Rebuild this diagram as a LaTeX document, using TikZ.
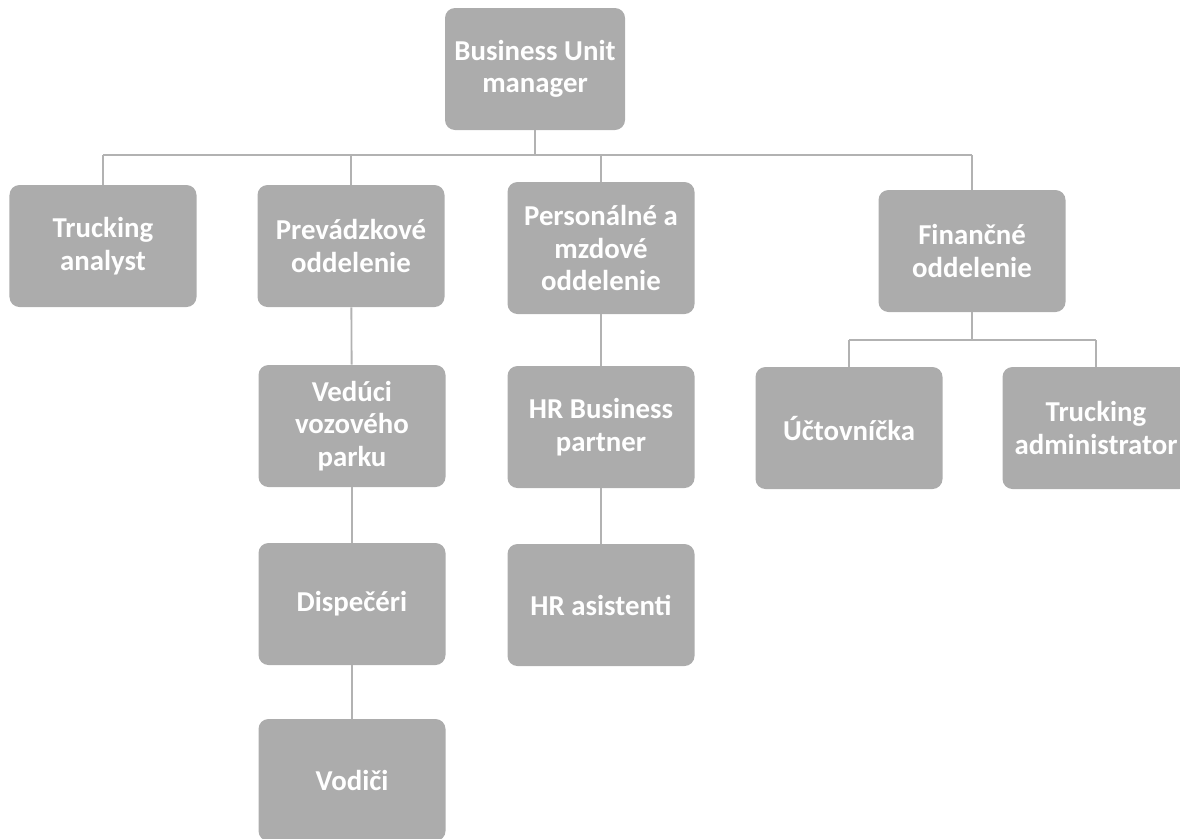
\documentclass[tikz,border=0pt]{standalone}
\usepackage{fontspec}
\setmainfont{Carlito}
\usepackage{tikz}

\begin{document}
\begin{tikzpicture}[
    unit/.style={rectangle, rounded corners=0.25cm, fill=gray!65, text=white,
      minimum width=4.675cm, minimum height=3.05cm, align=center,
      font=\fontsize{20.5}{23}\selectfont\bfseries},
    link/.style={draw=gray!60, line width=1.3pt}]
    \useasboundingbox (0,0) rectangle (29.5,-20.95);
    % boxes
    \node[unit, minimum width=4.5cm] (bum) at (13.375,-1.725) {Business Unit\\manager};
    \node[unit] (ta) at (2.575,-6.15) {Trucking\\analyst};
    \node[unit] (prev) at (8.775,-6.15) {Prevádzkové\\oddelenie};
    \node[unit, minimum height=3.3cm] (pers) at (15.025,-6.2) {Personálné a\\mzdové\\oddelenie};
    \node[unit] (fin) at (24.3,-6.275) {Finančné\\oddelenie};
    \node[unit] (ved) at (8.8,-10.65) {Vedúci\\vozového\\parku};
    \node[unit] (hrbp) at (15.025,-10.675) {HR Business\\partner};
    \node[unit] (ucto) at (21.225,-10.7) {Účtovníčka};
    \node[unit] (tadm) at (27.4,-10.7) {Trucking\\administrator};
    \node[unit] (disp) at (8.8,-15.1) {Dispečéri};
    \node[unit] (hras) at (15.025,-15.125) {HR asistenti};
    \node[unit] (vod) at (8.8,-19.5) {Vodiči};
    % lines
    \coordinate (bar) at (0,-3.875);
    \coordinate (finbar) at (0,-8.5);
    \draw[link] (bum.south) -- (bum.south |- bar);
    \draw[link] (ta.north |- bar) -- (fin.north |- bar);
    \foreach \n in {ta,prev,pers,fin}
    \draw[link] (\n.north |- bar) -- (\n.north);
    \draw[link] (fin.south) -- (fin.south |- finbar);
    \draw[link] (ucto.north |- finbar) -- (tadm.north |- finbar);
    \foreach \n in {ucto,tadm}
    \draw[link] (\n.north |- finbar) -- (\n.north);
    \draw[link] (prev) -- (ved);
    \draw[link] (ved) -- (disp);
    \draw[link] (disp) -- (vod);
    \draw[link] (pers) -- (hrbp);
    \draw[link] (hrbp) -- (hras);
  \end{tikzpicture}
\end{document}
